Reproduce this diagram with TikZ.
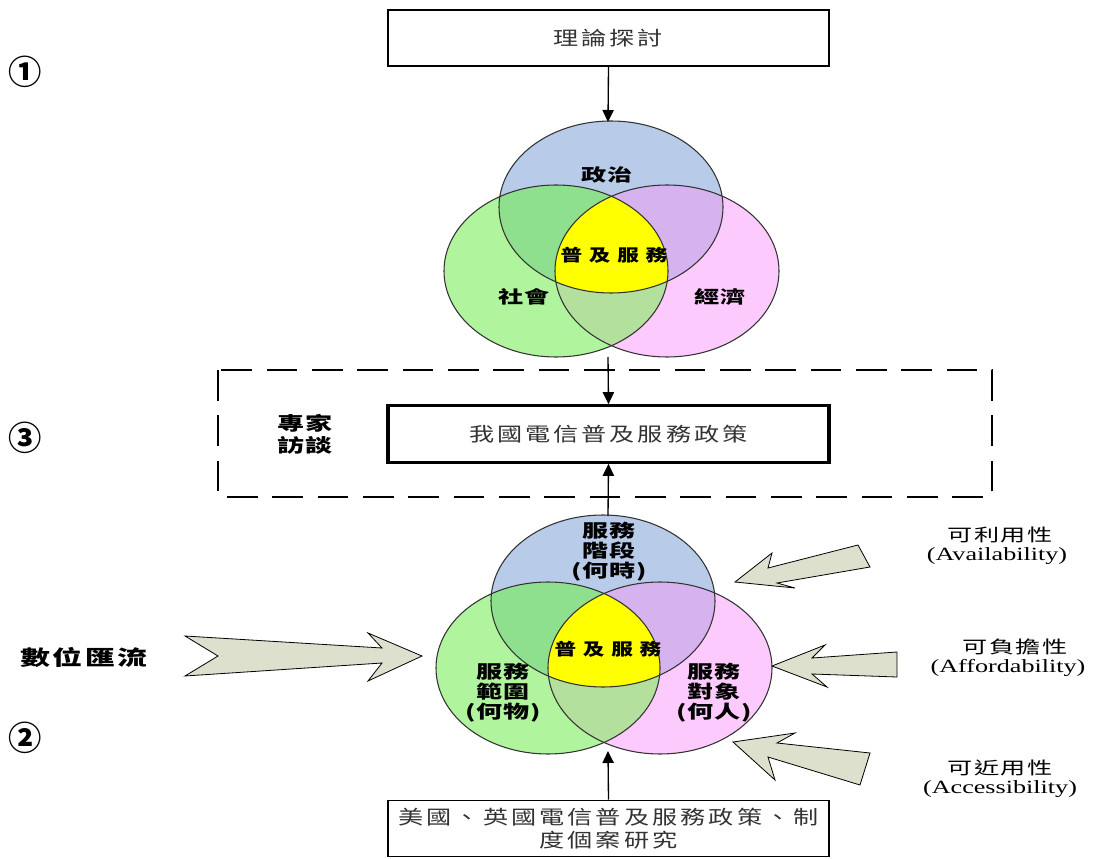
\documentclass[tikz,border=0pt]{standalone}
\usepackage{fontspec}
\setmainfont{Liberation Serif}
\newfontfamily\cjk[FakeStretch=1.3]{Noto Sans CJK TC}
\newfontfamily\cjkw[FakeStretch=1.45]{Noto Sans CJK TC}
\newfontfamily\serifw[FakeStretch=1.4]{Liberation Serif}
\newfontfamily\cjkplain{Noto Sans CJK TC}
\usetikzlibrary{arrows.meta,calc}

\definecolor{cblue}{RGB}{184,204,234}
\definecolor{cgreen}{RGB}{176,245,158}
\definecolor{cpink}{RGB}{253,202,253}
\definecolor{cbg}{RGB}{142,224,142}
\definecolor{cbp}{RGB}{214,178,238}
\definecolor{cgp}{RGB}{179,224,156}
\definecolor{cyel}{RGB}{255,255,0}
\definecolor{carrow}{RGB}{221,224,204}

% three overlapping ellipses: #1 top, #2 lower left, #3 lower right
\newcommand\vennset[3]{%
  \fill[cblue]  (#1) ellipse [x radius=84pt, y radius=64.5pt];
  \fill[cgreen] (#2) ellipse [x radius=84pt, y radius=64.5pt];
  \fill[cpink]  (#3) ellipse [x radius=84pt, y radius=64.5pt];
  \begin{scope}
    \clip (#1) ellipse [x radius=84pt, y radius=64.5pt];
    \fill[cbg] (#2) ellipse [x radius=84pt, y radius=64.5pt];
    \fill[cbp] (#3) ellipse [x radius=84pt, y radius=64.5pt];
  \end{scope}
  \begin{scope}
    \clip (#2) ellipse [x radius=84pt, y radius=64.5pt];
    \fill[cgp] (#3) ellipse [x radius=84pt, y radius=64.5pt];
  \end{scope}
  \begin{scope}
    \clip (#1) ellipse [x radius=84pt, y radius=64.5pt];
    \clip (#2) ellipse [x radius=84pt, y radius=64.5pt];
    \fill[cyel] (#3) ellipse [x radius=84pt, y radius=64.5pt];
  \end{scope}
  \foreach \c in {#1,#2,#3}
    \draw[vline] (\c) ellipse [x radius=84pt, y radius=64.5pt];
}

\begin{document}
\begin{tikzpicture}[x=0.75pt,y=-0.75pt,
  vline/.style={draw=black!80, line width=0.8pt},
  boxnode/.style={draw=black, line width=1.1pt, minimum width=330.75pt,
    minimum height=42pt, inner sep=0pt, align=center},
  boxtxt/.style={font=\cjk\fontsize{14.5}{18}\selectfont\addfontfeature{LetterSpace=15}, text=black!80},
  vlabel/.style={font=\cjkw\bfseries\fontsize{13}{15}\selectfont\addfontfeature{LetterSpace=10},
    align=center, inner sep=0pt},
  centre/.style={font=\cjk\bfseries\fontsize{12.5}{15}\selectfont\addfontfeature{LetterSpace=40},
    inner sep=0pt},
  three/.style={font=\cjkw\bfseries\fontsize{13.5}{15}\selectfont\addfontfeature{LetterSpace=5},
    align=center, inner sep=0pt},
  side/.style={font=\cjkw\bfseries\fontsize{14}{16.5}\selectfont\addfontfeature{LetterSpace=5},
    align=center, inner sep=0pt},
  rlabel/.style={align=center, inner sep=0pt, font=\serifw\fontsize{14}{15}\selectfont},
  rcjk/.style={font=\cjkw\fontsize{13}{15}\selectfont\addfontfeature{LetterSpace=8}, inner sep=0pt},
  num/.style={font=\cjkplain\bfseries\fontsize{25}{26}\selectfont, inner sep=0pt},
  link/.style={draw=black, line width=1pt, -{Triangle[length=9pt,width=8.5pt]}},
  bigarrow/.style={fill=carrow, draw=black, line width=0.6pt, line join=miter},
]
\useasboundingbox (0,0) rectangle (1103,859);

% ---- top: theory ----
\node[boxnode, boxtxt] (theory) at (608.5,38) {理論探討};

\coordinate (tB) at (611,207);
\coordinate (tG) at (556,271);
\coordinate (tP) at (667,271);
\vennset{tB}{tG}{tP}
\coordinate (ttop) at (608,122);
\coordinate (tbot) at (608,357);

\node[vlabel] (politics) at (607,175) {政治};
\node[centre] (usoA) at (614,255) {普及服務};
\node[vlabel] (society) at (524,297) {社會};
\node[vlabel] (economy) at (720,297) {經濟};

% ---- middle: policy & interviews ----
\draw[line width=1.5pt, dash pattern=on 23pt off 11pt] (218,370) rectangle (992,497);
\node[boxnode, boxtxt, line width=2.3pt, minimum height=42.5pt] (policy) at (608.5,434) {我國電信普及服務政策};
\node[side] (expert) at (305,434) {專家\\訪談};

% ---- bottom venn ----
\coordinate (bB) at (603,601);
\coordinate (bG) at (548,668);
\coordinate (bP) at (660,668);
\vennset{bB}{bG}{bP}
\coordinate (btop) at (608,516);
\coordinate (bbot) at (608,751);

\node[three] (stage) at (609,552) {服務\\階段\\(何時)};
\node[centre] (usoB) at (608,649) {普及服務};
\node[three] (scope) at (503,693) {服務\\範圍\\(何物)};
\node[three] (target) at (714,693) {服務\\對象\\(何人)};

\node[boxnode, boxtxt, line width=1.3pt, font=\cjk\fontsize{14.5}{17}\selectfont\addfontfeature{LetterSpace=16}] (cases) at (608.5,828.5)
  {美國、英國電信普及服務政策、制\\度個案研究};

% ---- connectors ----
\draw[link] (theory.south) -- (ttop);
\draw[link] (tbot) -- (policy.north);
\draw[link] (btop) -- (policy.south);
\draw[link] (cases.north) -- (bbot);

% ---- block arrows ----
\draw[bigarrow] (185,636) -- (382,648) -- (368,633) -- (422,656) -- (368,681)
  -- (382,663) -- (185,676) -- (218,656) -- cycle;
\node[side, font=\cjkw\bfseries\fontsize{15.5}{17}\selectfont\addfontfeature{LetterSpace=10}] (digital) at (84,657) {數位匯流};

\draw[bigarrow] (735,582) -- (772,553) -- (768,568) -- (858,545) -- (870,567)
  -- (777,583) -- (795,588) -- cycle;
\draw[bigarrow] (772,666) -- (825,645) -- (812,658) -- (897,652) -- (897,677)
  -- (812,674) -- (827,687) -- cycle;
\draw[bigarrow] (733,742) -- (795,733) -- (777,743) -- (870,753) -- (860,785)
  -- (768,757) -- (775,780) -- cycle;

\node[rcjk] (availzh) at (1000,535) {可利用性};
\node[rlabel] (avail) at (997,556) {(Availability)};
\node[rcjk] (affordzh) at (1015,647) {可負擔性};
\node[rlabel] (afford) at (1008,668) {(Affordability)};
\node[rcjk] (accesszh) at (1000,768) {可近用性};
\node[rlabel] (access) at (1000,789) {(Accessibility)};

% ---- stage numbers ----
\node[num] (n1) at (25,72) {①};
\node[num] (n3) at (25,438) {③};
\node[num] (n2) at (25,738) {②};
\end{tikzpicture}
\end{document}
